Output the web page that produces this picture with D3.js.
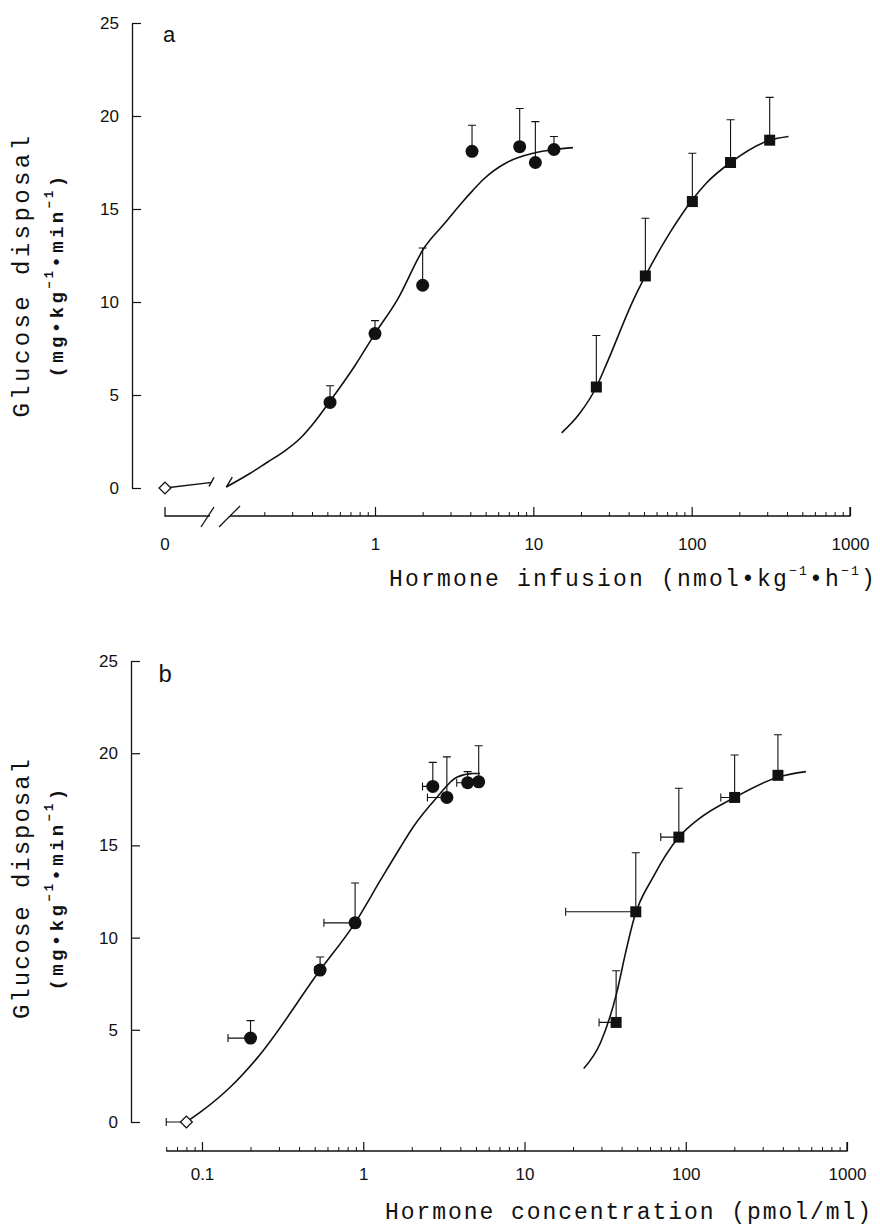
<!DOCTYPE html>
<html>
<head>
<meta charset="utf-8">
<script src="https://cdn.jsdelivr.net/npm/d3@7"></script>
<style>
  body { margin: 0; background: #fff; }
</style>
</head>
<body>
<svg id="chart" width="880" height="1230"></svg>
<script>
// ---- panel a: glucose disposal vs hormone infusion (nmol/kg/h) ----
const infCircleDose = [0.52, 1.0, 2.0, 4.1, 8.2, 10.3, 13.5];
const infCircleGlu  = [4.6, 8.3, 10.9, 18.1, 18.35, 17.5, 18.2];
const infCircleTop  = [5.5, 9.0, 12.9, 19.5, 20.4, 19.7, 18.9];

const infSquareDose = [25, 51, 101, 176, 311];
const infSquareGlu  = [5.43, 11.4, 15.4, 17.5, 18.7];
const infSquareTop  = [8.2, 14.5, 18.0, 19.8, 21.0];

// fitted curves
const infCircleCurveX = [0.115, 0.16, 0.21, 0.27, 0.34, 0.42, 0.51, 0.75, 1.0, 1.38, 2.04, 2.8, 3.59, 4.15, 4.79, 6.8, 10, 13.5, 17.8];
const infCircleCurveY = [0.05, 0.75, 1.4, 2.0, 2.7, 3.6, 4.57, 6.6, 8.3, 10.1, 12.9, 14.3, 15.4, 16.0, 16.56, 17.5, 18.0, 18.2, 18.3];
const infSquareCurveX = [15.1, 19.6, 25, 29.1, 42.8, 51, 72.6, 101, 124, 176, 311, 409];
const infSquareCurveY = [2.96, 4.0, 5.43, 6.7, 10.1, 11.4, 13.7, 15.5, 16.4, 17.5, 18.7, 18.9];

// basal (no hormone) point and its stub before the axis break
const basalGlu = 0;
const basalStubGlu = 0.3;

// ---- panel b: glucose disposal vs hormone concentration (pmol/ml) ----
const concCircleX    = [0.20, 0.54, 0.89, 2.7, 3.3, 4.44, 5.2];
const concCircleGlu  = [4.55, 8.24, 10.8, 18.2, 17.6, 18.4, 18.45];
const concCircleTop  = [5.5, 8.95, 12.96, 19.5, 19.8, 19.0, 20.4];
const concCircleLeft = [0.145, 0.50, 0.57, 2.33, 2.5, 3.8, 5.2];

const concSquareX    = [37, 49, 90.6, 201, 373];
const concSquareGlu  = [5.4, 11.4, 15.45, 17.6, 18.8];
const concSquareTop  = [8.2, 14.6, 18.1, 19.9, 21.0];
const concSquareLeft = [29, 18, 70, 165, 373];

const concBasalX = 0.08, concBasalLeft = 0.06;

const concCircleCurveX = [0.08, 0.1, 0.15, 0.219, 0.54, 0.89, 1.276, 1.7, 2.04, 2.86, 3.8, 4.8, 5.3];
const concCircleCurveY = [0, 0.6, 1.9, 3.45, 8.24, 10.8, 13.1, 14.9, 16.0, 17.6, 18.7, 18.9, 18.9];
const concSquareCurveX = [23.3, 29.6, 37.3, 42.4, 48, 63, 90.6, 119, 201, 373, 556];
const concSquareCurveY = [2.9, 4.3, 7.0, 9.2, 11.1, 13.3, 15.45, 16.4, 17.6, 18.7, 19.0];

// ticks
const glucoseTicks = [0, 5, 10, 15, 20, 25];
const infusionTicks = [1, 10, 100, 1000];
const concTicks = [0.1, 1, 10, 100, 1000];

const svg = d3.select("#chart");
const ink = "#111";
const mono = "'Liberation Mono', 'Courier New', monospace";
const sans = "'Liberation Sans', Arial, sans-serif";

function zip(xs, ys) { return xs.map((x, i) => ({x: x, y: ys[i]})); }

function minorTicks(lo, hi) {
  const out = [];
  for (let d = 0.01; d < hi; d *= 10)
    for (let k = 2; k <= 9; k++) {
      const v = +(k * d).toPrecision(3);
      if (v >= lo && v <= hi) out.push(v);
    }
  return out;
}

// stretch letter spacing so a text spans the width it has in the figure
function fitWidth(text, width) {
  const node = text.node();
  const len = node.getComputedTextLength();
  const n = node.textContent.length;
  text.attr("letter-spacing", ((width - len) / n).toFixed(2));
}

function yAxis(y, x0) {
  svg.append("g")
    .attr("transform", `translate(${x0},0)`)
    .call(d3.axisLeft(y).tickValues(glucoseTicks).tickSize(-9).tickSizeOuter(0).tickPadding(13))
    .call(g => g.select(".domain").attr("stroke", ink).attr("stroke-width", 1.3))
    .call(g => g.selectAll(".tick line").attr("stroke", ink).attr("stroke-width", 1.2))
    .call(g => g.selectAll("text").attr("font-family", sans).attr("font-size", 17).attr("fill", ink));
}

function xAxis(x, y0, ticks, minor, pad, fmt) {
  const g = svg.append("g").attr("transform", `translate(0,${y0})`);
  g.append("g")
    .call(d3.axisBottom(x).tickValues(minor).tickSize(-4).tickFormat(""))
    .call(a => a.select(".domain").remove())
    .call(a => a.selectAll(".tick line").attr("stroke", ink).attr("stroke-width", 1));
  g.append("g")
    .call(d3.axisBottom(x).tickValues(ticks).tickSize(-9).tickPadding(pad).tickFormat(fmt))
    .call(a => a.select(".domain").remove())
    .call(a => a.selectAll(".tick line").attr("stroke", ink).attr("stroke-width", 1.2))
    .call(a => a.selectAll("text").attr("font-family", sans).attr("font-size", 17).attr("fill", ink));
  return g;
}

function yTitle(cx, cy, w1, w2) {
  const t1 = svg.append("text")
    .attr("transform", `translate(${cx},${cy}) rotate(-90)`)
    .attr("text-anchor", "middle")
    .attr("font-family", mono).attr("font-size", 24).attr("fill", ink)
    .text("Glucose disposal");
  fitWidth(t1, w1);
  const t2 = svg.append("text")
    .attr("transform", `translate(${cx + 34},${cy}) rotate(-90)`)
    .attr("text-anchor", "middle")
    .attr("font-family", mono).attr("font-size", 19).attr("font-weight", "bold").attr("fill", ink);
  t2.append("tspan").text("(mg•kg");
  t2.append("tspan").attr("font-size", 12).attr("dy", -10).text("−1");
  t2.append("tspan").attr("dy", 10).text("•min");
  t2.append("tspan").attr("font-size", 12).attr("dy", -10).text("−1");
  t2.append("tspan").attr("dy", 10).text(")");
  fitWidth(t2, w2);
}

function errBars(g, pts, x, y) {
  g.selectAll(null).data(pts).join("path")
    .attr("fill", "none").attr("stroke", ink).attr("stroke-width", 1.1)
    .attr("d", d => {
      const px = x(d.x), py = y(d.y), pt = y(d.top);
      let p = `M${px},${py}V${pt}M${px - 4},${pt}H${px + 4}`;
      if (d.left !== undefined && d.left < d.x) {
        const pl = x(d.left);
        p += `M${px},${py}H${pl}M${pl},${py - 4}V${py + 4}`;
      }
      return p;
    });
}

function curve(g, pts, x, y) {
  g.append("path").datum(pts)
    .attr("fill", "none").attr("stroke", ink).attr("stroke-width", 1.6)
    .attr("d", d3.line().x(d => x(d.x)).y(d => y(d.y)).curve(d3.curveMonotoneX));
}

function circles(g, pts, x, y) {
  g.selectAll(null).data(pts).join("circle")
    .attr("cx", d => x(d.x)).attr("cy", d => y(d.y)).attr("r", 6.5).attr("fill", ink);
}

function squares(g, pts, x, y) {
  g.selectAll(null).data(pts).join("rect")
    .attr("x", d => x(d.x) - 5.5).attr("y", d => y(d.y) - 5.5)
    .attr("width", 11).attr("height", 11).attr("fill", ink);
}

function diamond(g, px, py) {
  g.append("path")
    .attr("transform", `translate(${px},${py}) rotate(45)`)
    .attr("d", d3.symbol(d3.symbolSquare, 70)())
    .attr("fill", "#fff").attr("stroke", ink).attr("stroke-width", 1.3);
}

// ================= panel a =================
const yA = d3.scaleLinear().domain([0, 25]).range([488, 23]);
const xA = d3.scaleLog().domain([1, 1000]).range([375, 850]);
const xA0 = 165;          // position of the "0" dose
const baseA = 516;
const breakA = 230;       // where the log axis resumes after the break

yAxis(yA, 132);
const axA = xAxis(xA, baseA, infusionTicks, minorTicks(0.2, 1000), 22, d3.format("d"));
// baseline pieces and the zero tick
axA.append("path").attr("fill", "none").attr("stroke", ink).attr("stroke-width", 1.3)
  .attr("d", `M${xA0},-9V0H210M${breakA},0H${xA(1000)}V-9`);
axA.append("text").attr("x", xA0).attr("y", 22).attr("dy", "0.71em")
  .attr("text-anchor", "middle").attr("font-family", sans).attr("font-size", 17).attr("fill", ink).text("0");
// axis break marks
axA.append("path").attr("fill", "none").attr("stroke", ink).attr("stroke-width", 1.3)
  .attr("d", `M${201},11L${214},-9M${219},11L${240},-10`);

const gA = svg.append("g");
// basal stub before the break, and break ticks on the curves
gA.append("path").attr("fill", "none").attr("stroke", ink).attr("stroke-width", 1.4)
  .attr("d", `M${xA0},${yA(basalGlu)}L212,${yA(basalStubGlu)}M209,${yA(basalStubGlu) + 4}L214,${yA(basalStubGlu) - 5}`);
const startA = xA(infCircleCurveX[0]), startAy = yA(infCircleCurveY[0]);
gA.append("path").attr("fill", "none").attr("stroke", ink).attr("stroke-width", 1.4)
  .attr("d", `M${startA},${startAy}L${startA + 6},${startAy - 10}`);

errBars(gA, infCircleDose.map((d, i) => ({x: d, y: infCircleGlu[i], top: infCircleTop[i]})), xA, yA);
errBars(gA, infSquareDose.map((d, i) => ({x: d, y: infSquareGlu[i], top: infSquareTop[i]})), xA, yA);
curve(gA, zip(infCircleCurveX, infCircleCurveY), xA, yA);
curve(gA, zip(infSquareCurveX, infSquareCurveY), xA, yA);
circles(gA, zip(infCircleDose, infCircleGlu), xA, yA);
squares(gA, zip(infSquareDose, infSquareGlu), xA, yA);
diamond(gA, xA0, yA(basalGlu));

svg.append("text").attr("x", 163).attr("y", 42)
  .attr("font-family", sans).attr("font-size", 22).attr("fill", ink).text("a");

yTitle(29, 275, 285, 205);

const tA = svg.append("text").attr("x", 877).attr("y", 586).attr("text-anchor", "end")
  .attr("font-family", mono).attr("font-size", 23).attr("fill", ink);
tA.append("tspan").text("Hormone infusion (nmol•kg");
tA.append("tspan").attr("font-size", 13).attr("dy", -11).text("−1");
tA.append("tspan").attr("dy", 11).text("•h");
tA.append("tspan").attr("font-size", 13).attr("dy", -11).text("−1");
tA.append("tspan").attr("dy", 11).text(")");
fitWidth(tA, 488);

// ================= panel b =================
const yB = d3.scaleLinear().domain([0, 25]).range([1122, 661]);
const xB = d3.scaleLog().domain([0.1, 1000]).range([202, 847]);
const baseB = 1151;

yAxis(yB, 131);
const axB = xAxis(xB, baseB, concTicks, minorTicks(0.06, 1000), 17, d => d3.format("~g")(d));
axB.append("path").attr("fill", "none").attr("stroke", ink).attr("stroke-width", 1.3)
  .attr("d", `M${xB(0.06)},0H${xB(1000)}V-9`);

const gB = svg.append("g");
errBars(gB, concCircleX.map((d, i) => ({x: d, y: concCircleGlu[i], top: concCircleTop[i], left: concCircleLeft[i]})), xB, yB);
errBars(gB, concSquareX.map((d, i) => ({x: d, y: concSquareGlu[i], top: concSquareTop[i], left: concSquareLeft[i]})), xB, yB);
errBars(gB, [{x: concBasalX, y: basalGlu, top: basalGlu, left: concBasalLeft}], xB, yB);
curve(gB, zip(concCircleCurveX, concCircleCurveY), xB, yB);
curve(gB, zip(concSquareCurveX, concSquareCurveY), xB, yB);
circles(gB, zip(concCircleX, concCircleGlu), xB, yB);
squares(gB, zip(concSquareX, concSquareGlu), xB, yB);
diamond(gB, xB(concBasalX), yB(basalGlu));

svg.append("text").attr("x", 158).attr("y", 682)
  .attr("font-family", mono).attr("font-size", 24).attr("fill", ink).text("b");

yTitle(29, 888, 262, 205);

const tB = svg.append("text").attr("x", 873).attr("y", 1219).attr("text-anchor", "end")
  .attr("font-family", mono).attr("font-size", 23).attr("fill", ink)
  .text("Hormone concentration (pmol/ml)");
fitWidth(tB, 488);
</script>
</body>
</html>
